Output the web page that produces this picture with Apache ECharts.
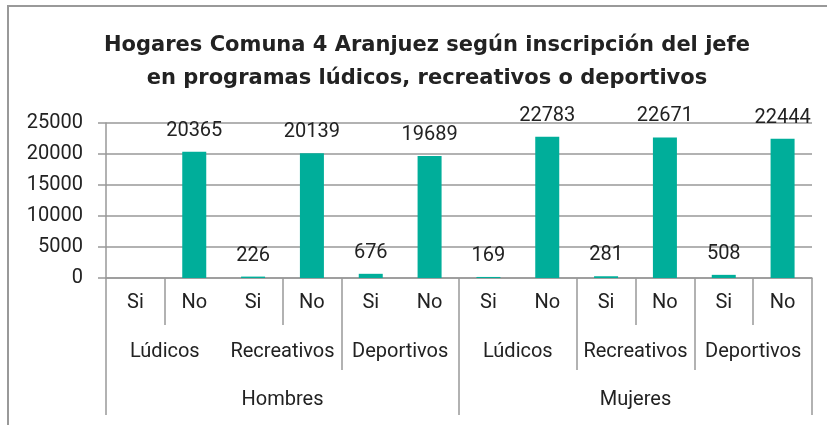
<!DOCTYPE html>
<html>
<head>
<meta charset="utf-8">
<style>
    html, body { margin: 0; padding: 0; background: #fff; }
    #wrap { position: relative; width: 827px; height: 425px; overflow: hidden; }
    #frame {
        position: absolute; left: 7px; top: 5px; width: 830px; height: 430px;
        border-top: 2px solid #999; border-left: 2px solid #999;
    }
    #chart { position: absolute; left: 0; top: 0; width: 827px; height: 425px; }
</style>
<script src="https://cdn.jsdelivr.net/npm/echarts@6/dist/echarts.min.js"></script>
</head>
<body>
<div id="wrap">
    <div id="frame"></div>
    <div id="chart"></div>
</div>
<script>
    // datos del grafico
    var sexos = ['Hombres', 'Mujeres'];
    var programas = ['Lúdicos', 'Recreativos', 'Deportivos'];
    var respuestas = ['Si', 'No'];
    // Hombres: Lúdicos Si/No, Recreativos Si/No, Deportivos Si/No, luego Mujeres igual
    var hogares = [null, 20365, 226, 20139, 676, 19689, 169, 22783, 281, 22671, 508, 22444];
    var yTicks = [0, 5000, 10000, 15000, 20000, 25000];

    var gris = '#999';
    var texto = '#222';
    var fuente = 'Roboto';

    // categorias por nivel
    var nivel1 = [], nivel2 = [];
    sexos.forEach(function () {
        programas.forEach(function (p) {
            nivel2.push(p);
            respuestas.forEach(function (r) { nivel1.push(r); });
        });
    });

    // separadores que se ven en el original
    var cortes1 = [1, 3, 9, 11];
    var cortes2 = [2, 4, 5];

    var chart = echarts.init(document.getElementById('chart'), null, {renderer: 'canvas'});
    var option = {
        backgroundColor: 'transparent',
        animation: false,
        textStyle: { fontFamily: fuente },
        title: {
            text: 'Hogares Comuna 4 Aranjuez según inscripción del jefe\nen programas lúdicos, recreativos o deportivos',
            left: 422,
            top: 24,
            textAlign: 'center',
            textStyle: {
                fontFamily: 'DejaVu Sans',
                fontSize: 21,
                fontWeight: 'bold',
                color: texto,
                lineHeight: 33
            }
        },
        grid: { left: 106, right: 15, top: 123, bottom: 147, containLabel: false },
        yAxis: {
            type: 'value',
            min: yTicks[0],
            max: yTicks[yTicks.length - 1],
            interval: 5000,
            axisLine: { show: true, lineStyle: { color: gris, width: 1.5 } },
            axisTick: { show: true, length: 8, lineStyle: { color: gris, width: 1.5 } },
            axisLabel: {
                margin: 23, fontSize: 20, color: texto, fontFamily: fuente,
                formatter: function (v) { return String(v); }
            },
            splitLine: { show: true, lineStyle: { color: gris, width: 1.5 } }
        },
        xAxis: [
            {
                type: 'category',
                data: nivel1,
                position: 'bottom',
                axisLine: { show: true, lineStyle: { color: gris, width: 1.5 } },
                axisTick: {
                    show: true, length: 47,
                    interval: function (i) { return cortes1.indexOf(i) >= 0; },
                    lineStyle: { color: gris, width: 1.5 }
                },
                axisLabel: { interval: 0, margin: 15, fontSize: 20, color: texto, fontFamily: fuente }
            },
            {
                type: 'category',
                data: nivel2,
                position: 'bottom',
                axisLine: { show: false },
                axisTick: {
                    show: true, length: 92,
                    interval: function (i) { return cortes2.indexOf(i) >= 0; },
                    lineStyle: { color: gris, width: 1.5 }
                },
                axisLabel: { interval: 0, margin: 64, fontSize: 20, color: texto, fontFamily: fuente }
            },
            {
                type: 'category',
                data: sexos,
                position: 'bottom',
                axisLine: { show: false },
                axisTick: {
                    show: true, length: 137, interval: 0,
                    lineStyle: { color: gris, width: 1.5 }
                },
                axisLabel: { interval: 0, margin: 112, fontSize: 20, color: texto, fontFamily: fuente }
            }
        ],
        series: [
            {
                name: 'Hogares',
                type: 'bar',
                xAxisIndex: 0,
                data: hogares,
                barWidth: 24,
                itemStyle: { color: '#00ae9a' },
                label: {
                    show: true,
                    position: 'top',
                    distance: 11,
                    fontSize: 20,
                    color: texto,
                    fontFamily: fuente
                }
            }
        ]
    };
    chart.setOption(option);
</script>
</body>
</html>
